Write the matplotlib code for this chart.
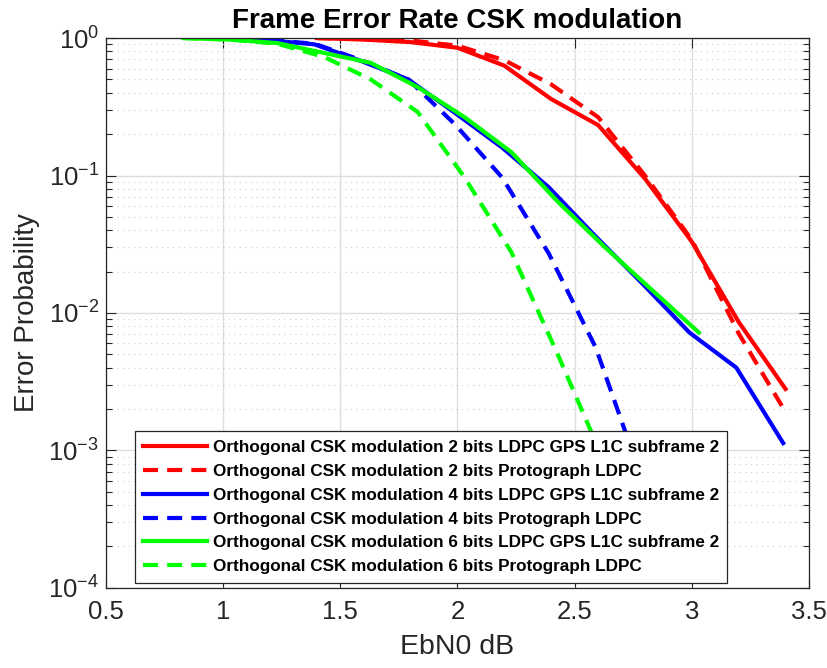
import matplotlib
matplotlib.use("Agg")
import matplotlib.pyplot as plt
from matplotlib.ticker import LogLocator, MultipleLocator, NullFormatter, FuncFormatter

plt.rcParams["font.family"] = ["Liberation Sans", "DejaVu Sans"]
plt.rcParams["mathtext.fontset"] = "custom"
plt.rcParams["mathtext.rm"] = "Liberation Sans"

# Eb/N0 grids (dB) for each constellation size
ebn0_2 = [1.4, 1.6, 1.8, 2.0, 2.2, 2.4, 2.6, 2.8, 3.0, 3.2, 3.4]
ebn0_4 = [0.99, 1.19, 1.39, 1.59, 1.79, 1.99, 2.19, 2.39, 2.59, 2.79, 2.99, 3.19, 3.39]
ebn0_6 = [0.83, 1.03, 1.23, 1.43, 1.63, 1.83, 2.03, 2.23, 2.43, 2.63, 2.83, 3.03]

# frame error rates
fer_2_l1c = [1.0, 0.975, 0.935, 0.85, 0.63, 0.36, 0.233, 0.095, 0.033, 0.0086, 0.0028]
fer_2_proto = [1.0, 0.985, 0.96, 0.88, 0.69, 0.46, 0.266, 0.10, 0.034, 0.0071, 0.0019]
fer_4_l1c = [1.0, 0.965, 0.90, 0.68, 0.50, 0.285, 0.16, 0.082, 0.036, 0.0163, 0.0072, 0.0040, 0.00113]
fer_4_proto = [1.0, 0.97, 0.91, 0.69, 0.50, 0.235, 0.097, 0.027, 0.0056, 0.0006]
fer_6_l1c = [1.0, 0.975, 0.92, 0.78, 0.66, 0.44, 0.266, 0.148, 0.064, 0.030, 0.0147, 0.0072]
fer_6_proto = [1.0, 0.975, 0.91, 0.73, 0.50, 0.29, 0.097, 0.0277, 0.0049, 0.0008]

labels = [
    "Orthogonal CSK modulation 2 bits LDPC GPS L1C subframe 2",
    "Orthogonal CSK modulation 2 bits Protograph LDPC",
    "Orthogonal CSK modulation 4 bits LDPC GPS L1C subframe 2",
    "Orthogonal CSK modulation 4 bits Protograph LDPC",
    "Orthogonal CSK modulation 6 bits LDPC GPS L1C subframe 2",
    "Orthogonal CSK modulation 6 bits Protograph LDPC",
]

fig = plt.figure(figsize=(8.28, 6.68), dpi=100)
ax = fig.add_axes([0.128, 0.12, 0.849, 0.823])

lw = 3.0
dash = (3.6, 2.2)
ax.semilogy(ebn0_2, fer_2_l1c, color=(1, 0, 0), lw=lw, label=labels[0])
ax.semilogy(ebn0_2, fer_2_proto, color=(1, 0, 0), lw=lw, ls=(0, dash), label=labels[1])
ax.semilogy(ebn0_4, fer_4_l1c, color=(0, 0, 1), lw=lw, label=labels[2])
ax.semilogy(ebn0_4[:len(fer_4_proto)], fer_4_proto, color=(0, 0, 1), lw=lw, ls=(0, dash), label=labels[3])
ax.semilogy(ebn0_6, fer_6_l1c, color=(0, 1, 0), lw=lw, label=labels[4])
ax.semilogy(ebn0_6[:len(fer_6_proto)], fer_6_proto, color=(0, 1, 0), lw=lw, ls=(0, dash), label=labels[5])

ax.set_xlim(0.5, 3.5)
ax.set_ylim(1e-4, 1)
ax.xaxis.set_major_locator(MultipleLocator(0.5))
ax.xaxis.set_major_formatter(FuncFormatter(lambda v, p: f"{v:g}"))
ax.yaxis.set_major_locator(LogLocator(base=10, numticks=10))
ax.yaxis.set_minor_locator(LogLocator(base=10, subs=range(2, 10), numticks=20))
ax.yaxis.set_minor_formatter(NullFormatter())

dark = (0.15, 0.15, 0.15)
ax.tick_params(which="both", direction="in", top=True, right=True, colors=dark,
               labelsize=18.5)
ax.tick_params(which="major", length=7, width=0.8)
ax.tick_params(which="minor", length=4, width=0.8)
ax.tick_params(axis="x", pad=9)
ax.tick_params(axis="y", pad=5)
for s in ax.spines.values():
    s.set_color(dark)
    s.set_linewidth(0.9)

ax.grid(which="major", color=(0.87, 0.87, 0.87), lw=1.0)
ax.grid(which="minor", axis="y", color=(0.8, 0.8, 0.8), lw=0.8, ls=(0, (1, 4)))
ax.set_axisbelow(True)

ax.set_title("Frame Error Rate CSK modulation", fontsize=20, fontweight="bold", pad=7)
ax.set_xlabel("EbN0 dB", fontsize=20.5, color=dark, labelpad=7)
ax.set_ylabel("Error Probability", fontsize=20, color=dark, labelpad=6)

leg = ax.legend(loc="lower left", bbox_to_anchor=(0.041, 0.009), borderaxespad=0,
                fancybox=False, framealpha=1, edgecolor=dark,
                prop={"weight": "bold", "size": 12.3},
                handlelength=3.7, handletextpad=0.35, labelspacing=0.52,
                borderpad=0.5)
leg.get_frame().set_linewidth(0.9)

fig.savefig("out.png", dpi=100)
plt.close(fig)
